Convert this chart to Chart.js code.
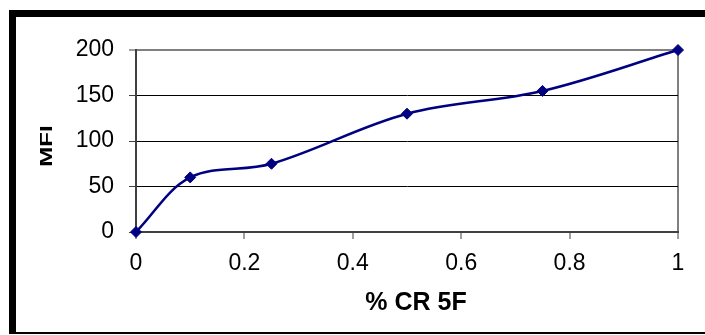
<!DOCTYPE html>
<html>
<head>
<meta charset="utf-8">
<script src="https://cdn.jsdelivr.net/npm/chart.js@4"></script>
<style>
  html, body { margin: 0; padding: 0; background: #fff; }
  canvas { display: block; }
</style>
</head>
<body>
<canvas id="mfi" width="705" height="335"></canvas>
<script>
// % CR 5F content against melt flow index
const crFraction = [0, 0.1, 0.25, 0.5, 0.75, 1];
const mfiValues = [0, 60, 75, 130, 155, 200];
const yTicks = [0, 50, 100, 150, 200];
const xTitle = '% CR 5F';
const yTitle = 'MFI';

const navy = '#000080';
const axisGrey = '#404040';
const frameGrey = '#808080';
const tickFont = { family: 'Liberation Sans', size: 23 };

// black frame round the whole chart, clipped on the right edge
const frame = {
  id: 'frame',
  beforeDraw: (chart) => {
    const ctx = chart.ctx;
    ctx.save();
    ctx.fillStyle = '#fff';
    ctx.fillRect(0, 0, chart.width, chart.height);
    ctx.fillStyle = '#000';
    ctx.fillRect(9, 10, 696, 7);
    ctx.fillRect(9, 10, 7, 324);
    ctx.fillRect(9, 332, 696, 2);
    ctx.restore();
  }
};

// axis titles, the vertical one is drawn a bit condensed
const axisTitles = {
  id: 'axisTitles',
  afterDraw: (chart) => {
    const ctx = chart.ctx;
    const area = chart.chartArea;
    ctx.save();
    ctx.fillStyle = '#000';
    ctx.textAlign = 'center';
    ctx.textBaseline = 'alphabetic';
    ctx.font = 'bold 25px "Liberation Sans"';
    ctx.fillText(xTitle, (area.left + area.right) / 2 + 9, 310);
    ctx.translate(52, 146);
    ctx.rotate(-Math.PI / 2);
    ctx.scale(1, 0.65);
    ctx.font = 'bold 24px "Liberation Sans"';
    ctx.fillText(yTitle, 0, 0);
    ctx.restore();
  }
};

new Chart(document.getElementById('mfi'), {
  type: 'line',
  data: {
    datasets: [{
      data: crFraction.map((x, i) => ({ x: x, y: mfiValues[i] })),
      borderColor: navy,
      backgroundColor: navy,
      borderWidth: 2.5,
      tension: 0.35,
      pointStyle: 'rectRot',
      pointRadius: 5.5,
      pointBorderWidth: 1,
      pointHoverRadius: 5.5,
      clip: false
    }]
  },
  options: {
    responsive: false,
    devicePixelRatio: 1,
    animation: false,
    events: [],
    layout: { padding: { left: 17, top: 50, right: 27, bottom: 15 } },
    plugins: {
      legend: { display: false },
      tooltip: { enabled: false }
    },
    scales: {
      x: {
        type: 'linear',
        min: 0,
        max: 1,
        afterFit: (scale) => { scale.height = 88; },
        ticks: {
          stepSize: 0.2,
          padding: 11,
          color: '#000',
          font: tickFont,
          callback: (v) => String(Number(v.toFixed(1)))
        },
        grid: {
          drawOnChartArea: true,
          color: (c) => (c.tick && c.tick.value === 1 ? frameGrey : 'transparent'),
          lineWidth: 2,
          tickColor: axisGrey,
          tickLength: 7,
          tickWidth: 1
        },
        border: { display: true, color: axisGrey, width: 2 }
      },
      y: {
        min: 0,
        max: 200,
        afterFit: (scale) => { scale.width = 119; },
        afterBuildTicks: (scale) => { scale.ticks = yTicks.map((v) => ({ value: v })); },
        ticks: {
          padding: 15,
          color: '#000',
          font: tickFont
        },
        grid: {
          color: (c) => {
            if (!c.tick) return '#000';
            if (c.tick.value === 200) return frameGrey;
            if (c.tick.value === 0) return 'transparent';
            return '#000';
          },
          lineWidth: (c) => (c.tick && c.tick.value === 200 ? 2 : 1),
          tickColor: axisGrey,
          tickLength: 7,
          tickWidth: 1
        },
        border: { display: true, color: axisGrey, width: 2 }
      }
    }
  },
  plugins: [frame, axisTitles]
});
</script>
</body>
</html>
